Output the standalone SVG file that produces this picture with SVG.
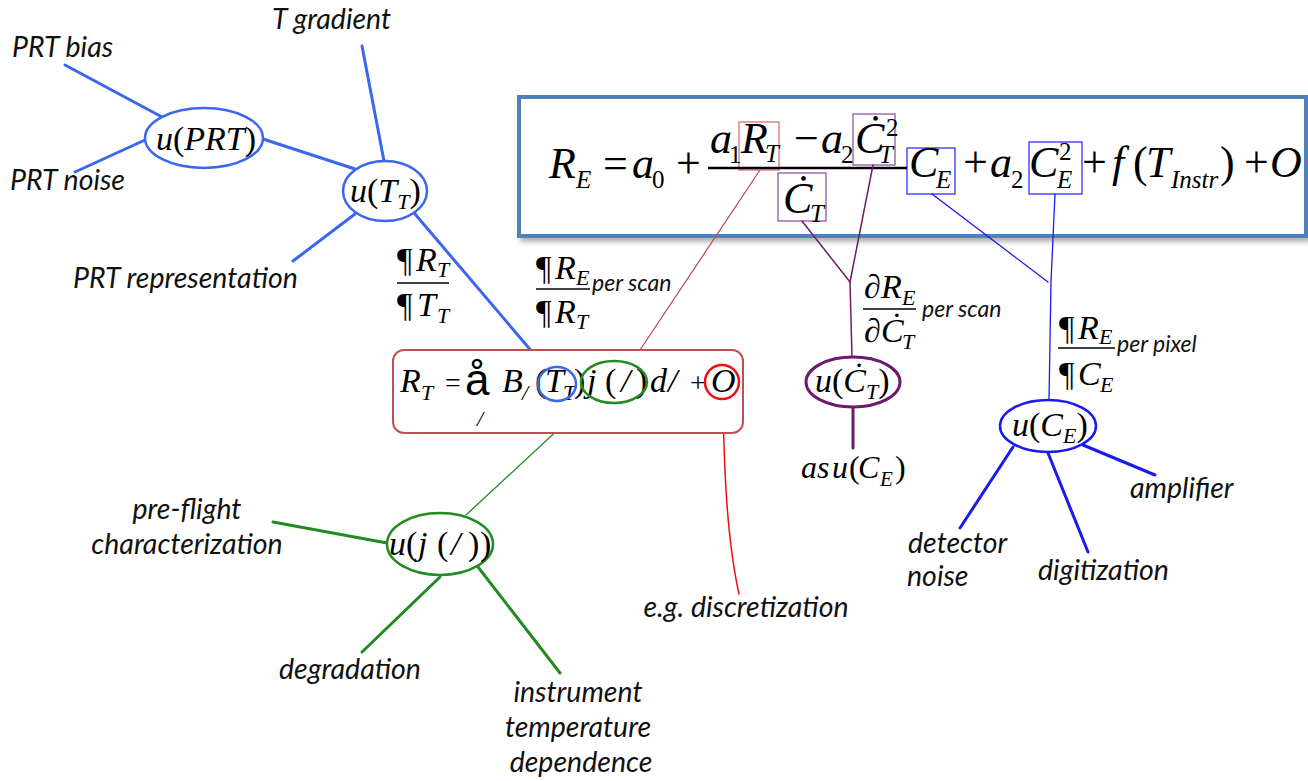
<svg xmlns="http://www.w3.org/2000/svg" width="1308" height="781" viewBox="0 0 1308 781">
<style>
.m{font-family:"Liberation Serif","Times New Roman",serif;font-style:italic;fill:#000}
.u{font-style:normal}
.lbl{font-family:Lato,"Liberation Sans",sans-serif;font-style:italic;font-size:28.5px;fill:#111}
.sm{font-family:Lato,"Liberation Sans",sans-serif;font-style:italic;font-size:23px;fill:#111}
.c{fill:none}
</style>
<defs>
<filter id="sh" x="-5%" y="-10%" width="112%" height="130%">
<feDropShadow dx="3" dy="4" stdDeviation="2.5" flood-color="#000" flood-opacity="0.3"/>
</filter>
</defs>

<g id="main-equation">
<rect x="519" y="97" width="787" height="139" fill="#fff" stroke="#4f81bd" stroke-width="4" filter="url(#sh)"/>
<rect x="739" y="122" width="40" height="48" class="c" stroke="#d9726f" stroke-width="1.3"/>
<rect x="853" y="114" width="42" height="51" class="c" stroke="#8e5a9e" stroke-width="1.3"/>
<rect x="778" y="173" width="48" height="48" class="c" stroke="#8e5a9e" stroke-width="1.3"/>
<rect x="907" y="148" width="48" height="46" class="c" stroke="#3030ff" stroke-width="1.3"/>
<rect x="1029" y="142" width="53" height="52" class="c" stroke="#3030ff" stroke-width="1.3"/>
<line x1="708" y1="168" x2="907" y2="168" stroke="#000" stroke-width="2.5"/>
<g class="m" font-size="44">
<text x="549" y="178">R</text><text x="576" y="188" font-size="25">E</text>
<text x="603" y="178" class="u">=</text>
<text x="632" y="178">a</text><text x="652" y="188" font-size="25" class="u">0</text>
<text x="676" y="178" class="u">+</text>
<text x="710" y="153">a</text><text x="729" y="163" font-size="25" class="u">1</text>
<text x="741" y="153">R</text><text x="765" y="162" font-size="25">T</text>
<text x="794" y="153" class="u">−</text>
<text x="821" y="153">a</text><text x="841" y="163" font-size="25" class="u">2</text>
<text x="855" y="153">Ċ</text><text x="886" y="136" font-size="25" class="u">2</text><text x="879" y="163" font-size="25">T</text>
<text x="783" y="213">Ċ</text><text x="810" y="222" font-size="25">T</text>
<text x="909" y="177">C</text><text x="936" y="188" font-size="25">E</text>
<text x="963" y="177" class="u">+</text>
<text x="990" y="177">a</text><text x="1011" y="188" font-size="25" class="u">2</text>
<text x="1029" y="177">C</text><text x="1059" y="160" font-size="25" class="u">2</text><text x="1057" y="188" font-size="25">E</text>
<text x="1082" y="177" class="u">+</text>
<text x="1112" y="177">f</text><text x="1133" y="177" class="u">(</text>
<text x="1146" y="177">T</text><text x="1171" y="188" font-size="25">Instr</text>
<text x="1220" y="177" class="u">)</text>
<text x="1244" y="177" class="u">+</text>
<text x="1270" y="177">O</text>
</g>
</g>

<g id="connectors" fill="none" stroke-linecap="round">
<g stroke="#3a66f0" stroke-width="3">
<line x1="65" y1="65" x2="162" y2="117"/>
<line x1="75" y1="172" x2="145" y2="140"/>
<line x1="263" y1="139" x2="355" y2="169"/>
<line x1="362" y1="46" x2="384" y2="161"/>
<line x1="355" y1="214" x2="293" y2="261"/>
<line x1="415" y1="214" x2="545" y2="367"/>
</g>
<line x1="760" y1="170" x2="640" y2="350" stroke="#c0504d" stroke-width="1.3"/>
<g stroke="#6e1a6e" stroke-width="1.5">
<line x1="802" y1="221" x2="850" y2="282"/>
<line x1="873" y1="165" x2="850" y2="282"/>
<line x1="850" y1="282" x2="852" y2="357"/>
</g>
<line x1="853" y1="408" x2="853" y2="448" stroke="#6e1a6e" stroke-width="3"/>
<g stroke="#1a1aee" stroke-width="1.3">
<line x1="932" y1="194" x2="1048" y2="282"/>
<polyline points="1055,194 1051,282 1049,400"/>
</g>
<g stroke="#1a1aee" stroke-width="3">
<line x1="1013" y1="447" x2="960" y2="528"/>
<line x1="1048" y1="453" x2="1088" y2="552"/>
<line x1="1083" y1="445" x2="1155" y2="475"/>
</g>
<line x1="591" y1="399" x2="466" y2="515" stroke="#228b22" stroke-width="1.3"/>
<g stroke="#228b22" stroke-width="3">
<line x1="273" y1="522" x2="387" y2="543"/>
<line x1="440" y1="577" x2="362" y2="652"/>
<line x1="478" y1="567" x2="560" y2="673"/>
</g>
<path d="M723,400 C724,470 727,540 739,594" stroke="#f01010" stroke-width="1.5"/>
</g>

<g id="node-uPRT">
<ellipse cx="204" cy="138" rx="59" ry="30" fill="#fff" stroke="#3a66f0" stroke-width="2.5"/>
<text class="m" font-size="34" x="156" y="150">u<tspan class="u">(</tspan>PRT<tspan class="u">)</tspan></text>
</g>
<g id="node-uTT">
<ellipse cx="385" cy="191" rx="42" ry="30" fill="#fff" stroke="#3a66f0" stroke-width="2.5"/>
<text class="m" font-size="34" x="350" y="202">u<tspan class="u">(</tspan>T<tspan font-size="22" dy="7">T</tspan><tspan class="u" dy="-7">)</tspan></text>
</g>
<g id="labels-left">
<text class="lbl" x="12" y="57">PRT bias</text>
<text class="lbl" x="272" y="29">T gradient</text>
<text class="lbl" x="10" y="190">PRT noise</text>
<text class="lbl" x="73" y="288">PRT representation</text>
</g>
<g id="deriv-RT-TT" class="m" font-size="34">
<text x="397" y="271" class="u">¶</text><text x="416" y="271">R</text><text x="437" y="277" font-size="22">T</text>
<line x1="397" y1="283" x2="449" y2="283" stroke="#000" stroke-width="1.5"/>
<text x="397" y="316" class="u">¶</text><text x="417" y="316">T</text><text x="437" y="323" font-size="22">T</text>
</g>
<g id="deriv-RE-RT" class="m" font-size="34">
<text x="536" y="279" class="u">¶</text><text x="555" y="279">R</text><text x="576" y="285" font-size="22">E</text>
<line x1="536" y1="289" x2="590" y2="289" stroke="#000" stroke-width="1.5"/>
<text x="536" y="323" class="u">¶</text><text x="555" y="323">R</text><text x="576" y="329" font-size="22">T</text>
<text class="sm" x="592" y="291">per scan</text>
</g>

<g id="node-RT">
<rect x="393" y="350" width="350" height="83" rx="11" fill="#fff" stroke="#c0504d" stroke-width="2"/>
<g class="m" font-size="34">
<text x="400" y="392">R</text><text x="421" y="400" font-size="22">T</text>
<text x="445" y="392" class="u" font-size="28">=</text>
<text x="465" y="395" font-family="Liberation Sans" font-style="normal" font-size="44">å</text>
<text x="477" y="426" font-size="22">/</text>
<text x="502" y="392">B</text><text x="522" y="400" font-size="22">/</text>
<text x="535" y="392" class="u">(</text><text x="545" y="392">T</text><text x="563" y="400" font-size="22">T</text><text x="574" y="392" class="u">)</text>
<text x="587" y="392">j</text><text x="605" y="392" class="u">(</text><text x="621" y="392">/</text><text x="636" y="392" class="u">)</text>
<text x="650" y="392">d</text><text x="668" y="392">/</text>
<text x="690" y="392" class="u" font-size="28">+</text><text x="711" y="392">O</text>
</g>
<ellipse cx="557" cy="384" rx="19" ry="17" fill="none" stroke="#3a66f0" stroke-width="2.5"/>
<ellipse cx="614" cy="382" rx="33" ry="21" fill="none" stroke="#228b22" stroke-width="2.5"/>
<ellipse cx="722" cy="382" rx="17" ry="17" fill="none" stroke="#f01010" stroke-width="2.5"/>
</g>

<g id="node-uphi">
<ellipse cx="440" cy="544" rx="53" ry="31" fill="#fff" stroke="#228b22" stroke-width="2.5"/>
<g class="m" font-size="34">
<text x="389" y="555">u</text><text x="406" y="555" class="u">(</text><text x="418" y="555">j</text>
<text x="437" y="555" class="u">(</text><text x="451" y="555">/</text><text x="468" y="555" class="u">)</text><text x="480" y="555" class="u">)</text>
</g>
</g>
<g id="labels-green">
<text class="lbl" x="187" y="519" text-anchor="middle">pre-flight</text>
<text class="lbl" x="187" y="554" text-anchor="middle">characterization</text>
<text class="lbl" x="350" y="679" text-anchor="middle">degradation</text>
<text class="lbl" x="578" y="702" text-anchor="middle">instrument</text>
<text class="lbl" x="578" y="737" text-anchor="middle">temperature</text>
<text class="lbl" x="581" y="772" text-anchor="middle">dependence</text>
<text class="lbl" x="746" y="617" text-anchor="middle">e.g. discretization</text>
</g>

<g id="deriv-RE-CT" class="m" font-size="34">
<text x="864" y="298" class="u">∂</text><text x="881" y="298">R</text><text x="902" y="305" font-size="22">E</text>
<line x1="863" y1="309" x2="916" y2="309" stroke="#000" stroke-width="1.5"/>
<text x="864" y="342" class="u">∂</text><text x="881" y="342">Ċ</text><text x="902" y="349" font-size="22">T</text>
<text class="sm" x="922" y="317">per scan</text>
</g>
<g id="node-uCT">
<ellipse cx="853" cy="382" rx="47" ry="25" fill="#fff" stroke="#6e1a6e" stroke-width="3"/>
<text class="m" font-size="34" x="815" y="392">u<tspan class="u">(</tspan>Ċ<tspan font-size="22" dy="7">T</tspan><tspan class="u" dy="-7">)</tspan></text>
</g>
<g id="label-asuCE" class="m" font-size="32">
<text x="801" y="478">as</text><text x="832" y="478">u</text><text x="849" y="478" class="u">(</text>
<text x="858" y="478">C</text><text x="880" y="486" font-size="21">E</text><text x="895" y="478" class="u">)</text>
</g>

<g id="deriv-RE-CE" class="m" font-size="34">
<text x="1059" y="339" class="u">¶</text><text x="1078" y="339">R</text><text x="1099" y="344" font-size="22">E</text>
<line x1="1058" y1="348" x2="1115" y2="348" stroke="#000" stroke-width="1.5"/>
<text x="1059" y="385" class="u">¶</text><text x="1078" y="385">C</text><text x="1100" y="392" font-size="22">E</text>
<text class="sm" x="1117" y="352">per pixel</text>
</g>
<g id="node-uCE">
<ellipse cx="1048" cy="426" rx="48" ry="26" fill="#fff" stroke="#1a1aee" stroke-width="2.5"/>
<text class="m" font-size="34" x="1012" y="436">u<tspan class="u">(</tspan>C<tspan font-size="22" dy="7">E</tspan><tspan class="u" dy="-7">)</tspan></text>
</g>
<g id="labels-blue">
<text class="lbl" x="908" y="553">detector</text>
<text class="lbl" x="907" y="586">noise</text>
<text class="lbl" x="1038" y="580">digitization</text>
<text class="lbl" x="1130" y="498">amplifier</text>
</g>
</svg>
